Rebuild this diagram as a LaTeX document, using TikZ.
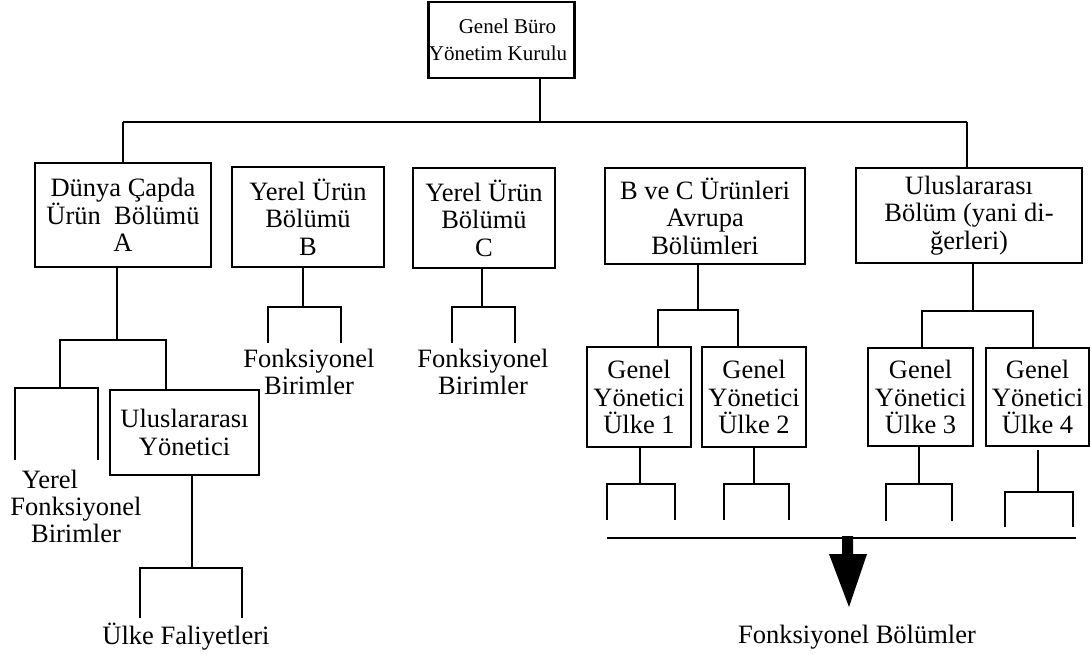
\documentclass[tikz,border=0pt]{standalone}
\usepackage{fontspec}
\setmainfont{Liberation Serif}
\begin{document}
\begin{tikzpicture}[x=1pt,y=-1pt,
  every node/.style={inner sep=0pt,outer sep=0pt},
  unit/.style={draw,line width=2.8pt,align=center,font=\fontsize{26.5}{27.5}\selectfont},
  board/.style={draw,line width=2.8pt,align=center,font=\fontsize{21}{27}\selectfont},
  caption/.style={align=center,font=\fontsize{26.5}{27}\selectfont},
  link/.style={line width=2.6pt,line join=miter},
  rail/.style={line width=2pt},
]
\useasboundingbox (0,0) rectangle (1091,656);

% ---- boxes ----
\node[board,minimum width=143pt,minimum height=76pt] (hq) at (501.5,40)
  {\hspace*{12pt}Genel Büro\\Yönetim Kurulu\hspace*{7pt}};
\node[unit,minimum width=176pt,minimum height=104pt] (wpa) at (123,215)
  {Dünya Çapda\\Ürün\ \ Bölümü\\A};
\node[unit,minimum width=152pt,minimum height=100pt] (lpb) at (308,217)
  {Yerel Ürün\\Bölümü\\B};
\node[unit,minimum width=142pt,minimum height=100pt] (lpc) at (484,218)
  {Yerel Ürün\\Bölümü\\C};
\node[unit,minimum width=200pt,minimum height=96pt] (eur) at (705,216)
  {B ve C Ürünleri\\Avrupa\\Bölümleri};
\node[unit,minimum width=226pt,minimum height=95pt] (intl) at (969,215.5)
  {Uluslararası\\Bölüm (yani di-\\ğerleri)};
\node[unit,minimum width=149pt,minimum height=85pt] (imgr) at (184.5,432.5)
  {Uluslararası\\Yönetici};
\node[unit,minimum width=104pt,minimum height=100pt] (gm1) at (639,397)
  {Genel\\Yönetici\\Ülke 1};
\node[unit,minimum width=104pt,minimum height=100pt] (gm2) at (754,397)
  {Genel\\Yönetici\\Ülke 2};
\node[unit,minimum width=105pt,minimum height=98pt] (gm3) at (920.5,397)
  {Genel\\Yönetici\\Ülke 3};
\node[unit,minimum width=103pt,minimum height=98pt] (gm4) at (1037.5,397)
  {Genel\\Yönetici\\Ülke 4};

% ---- free labels ----
\node[caption] (lfu) at (76,506.5) {Yerel\hspace*{52pt}\\Fonksiyonel\\Birimler};
\node[caption] (fub) at (309,371.5) {Fonksiyonel\\Birimler};
\node[caption] (fuc) at (483,372) {Fonksiyonel\\Birimler};
\node[caption,anchor=base] (ops) at (186,644) {Ülke Faliyetleri};
\node[caption,anchor=base] (fdiv) at (857,643) {Fonksiyonel Bölümler};

% ---- junction points ----
\coordinate (bus)  at (540,122);
\coordinate (dropA) at (123,122);
\coordinate (dropI) at (967,122);
\coordinate (jA)   at (117,340);
\coordinate (lf)   at (60,388);
\coordinate (lfL)  at (15,460);
\coordinate (lfR)  at (98,460);
\coordinate (imIn) at (166,390);
\coordinate (uf)   at (192,568);
\coordinate (ufL)  at (140,618);
\coordinate (ufR)  at (242,618);
\coordinate (fb)   at (303,307);
\coordinate (fbL)  at (268,343);
\coordinate (fbR)  at (341,343);
\coordinate (fc)   at (482,307);
\coordinate (fcL)  at (452,343);
\coordinate (fcR)  at (515,343);
\coordinate (je)   at (698,310);
\coordinate (g1in) at (658,347);
\coordinate (g2in) at (738,347);
\coordinate (ji)   at (973,311);
\coordinate (g3in) at (922,348);
\coordinate (g4in) at (1033,348);
\coordinate (k1)   at (640,484);
\coordinate (k1L)  at (607,520);
\coordinate (k1R)  at (675,520);
\coordinate (k2)   at (754,484);
\coordinate (k2L)  at (724,520);
\coordinate (k2R)  at (789,520);
\coordinate (k3)   at (919,484);
\coordinate (k3L)  at (886,521);
\coordinate (k3R)  at (952,521);
\coordinate (k4top) at (1038,450);
\coordinate (k4)   at (1038,492);
\coordinate (k4L)  at (1005,527);
\coordinate (k4R)  at (1073,527);
\coordinate (railL) at (607,538);
\coordinate (railR) at (1076,538);
\coordinate (arrowTop) at (847.5,536);

% ---- top level ----
\draw[link] (hq.south -| bus) -- (bus);
\draw[rail] (dropA) -- (dropI);
\draw[link] (wpa.north -| dropA) -- (dropA);
\draw[link] (intl.north -| dropI) -- (dropI);

% ---- world-wide product division A ----
\draw[link] (wpa.south -| jA) -- (jA);
\draw[link] (lf) |- (jA) -| (imIn);
\draw[link] (lfL) |- (lf) -| (lfR);
\draw[link] (imgr.south -| uf) -- (uf);
\draw[link] (ufL) |- (uf) -| (ufR);

% ---- local product divisions B and C ----
\draw[link] (lpb.south -| fb) -- (fb);
\draw[link] (fbL) |- (fb) -| (fbR);
\draw[link] (lpc.south -| fc) -- (fc);
\draw[link] (fcL) |- (fc) -| (fcR);

% ---- European and international divisions ----
\draw[link] (eur.south -| je) -- (je);
\draw[link] (g1in) |- (je) -| (g2in);
\draw[link] (intl.south -| ji) -- (ji);
\draw[link] (g3in) |- (ji) -| (g4in);

% ---- country managers ----
\draw[link] (gm1.south -| k1) -- (k1);
\draw[link] (k1L) |- (k1) -| (k1R);
\draw[link] (gm2.south -| k2) -- (k2);
\draw[link] (k2L) |- (k2) -| (k2R);
\draw[link] (gm3.south -| k3) -- (k3);
\draw[link] (k3L) |- (k3) -| (k3R);
\draw[link] (k4top) -- (k4);
\draw[link] (k4L) |- (k4) -| (k4R);

% ---- functional divisions rail and block arrow ----
\draw[rail] (railL) -- (railR);
\fill (arrowTop) ++(-5.5,0) -- ++(11,0) -- ++(0,18) -- ++(14,0)
  -- ++(-18,53) -- ++(-20,-53) -- ++(13,0) -- cycle;
\end{tikzpicture}
\end{document}
